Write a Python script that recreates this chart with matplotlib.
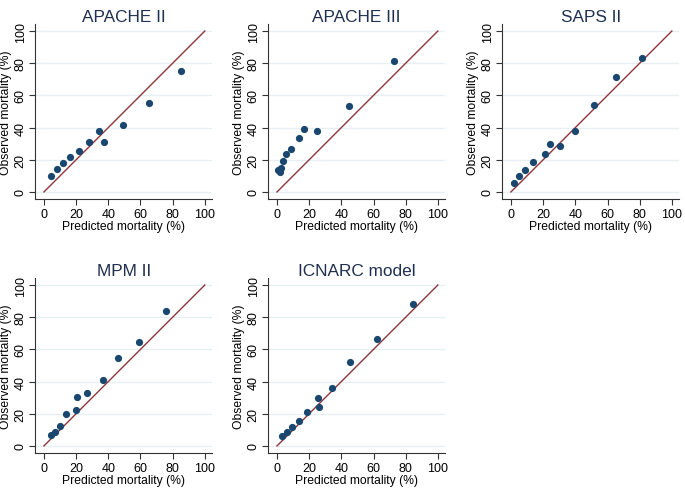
import matplotlib.pyplot as plt
import matplotlib

matplotlib.rcParams['font.family'] = ['Liberation Sans', 'DejaVu Sans']

# predicted vs observed mortality (%) per score
titles = ['APACHE II', 'APACHE III', 'SAPS II', 'MPM II', 'ICNARC model']

apache2_x = [4.6, 8.3, 11.8, 16.0, 21.6, 28.0, 34.5, 37.3, 49.4, 65.6, 85.2]
apache2_y = [9.8, 14.3, 18.1, 22.0, 25.6, 31.0, 37.8, 30.8, 41.4, 55.0, 75.4]

apache3_x = [0.5, 1.9, 2.7, 4.0, 5.8, 8.7, 13.7, 16.8, 25.0, 45.0, 72.8]
apache3_y = [13.5, 12.7, 15.0, 19.2, 23.3, 26.4, 33.7, 39.3, 38.0, 53.6, 81.6]

saps2_x = [2.1, 5.0, 8.7, 13.9, 21.4, 24.3, 30.6, 40.1, 51.4, 65.5, 81.5]
saps2_y = [5.6, 10.0, 13.5, 18.9, 23.7, 30.1, 28.3, 38.0, 54.3, 71.5, 83.2]

mpm2_x = [4.1, 6.6, 9.8, 13.7, 19.7, 20.5, 26.8, 36.5, 46.3, 59.3, 75.9]
mpm2_y = [6.8, 8.5, 12.4, 19.7, 22.4, 30.7, 32.8, 40.9, 54.8, 64.5, 83.8]

icnarc_x = [3.1, 6.2, 9.6, 13.7, 18.7, 25.6, 26.4, 34.3, 45.7, 62.2, 84.4]
icnarc_y = [6.0, 8.5, 11.8, 15.8, 21.2, 29.7, 24.5, 35.7, 51.9, 66.6, 88.4]

xs = [apache2_x, apache3_x, saps2_x, mpm2_x, icnarc_x]
ys = [apache2_y, apache3_y, saps2_y, mpm2_y, icnarc_y]

ticks = [0, 20, 40, 60, 80, 100]

navy = '#1a476f'
maroon = '#90353b'
gridc = '#e6eff1'
titlec = '#1e2f50'

fig = plt.figure(figsize=(6.85, 4.89), dpi=100)

lefts = [0.0512, 0.3914, 0.733, 0.0512, 0.3914]
bottoms = [0.5906, 0.5906, 0.5906, 0.0712, 0.0712]

for i in range(5):
    ax = fig.add_axes([lefts[i], bottoms[i], 0.2584, 0.3587])
    ax.set_xlim(-5.5, 104.5)
    ax.set_ylim(-4.5, 104.5)
    for t in ticks:
        ax.axhline(t, color=gridc, lw=0.9, zorder=0)
    ax.plot([0, 100], [0, 100], color=maroon, lw=1.0, zorder=2)
    ax.plot(xs[i], ys[i], 'o', color=navy, markersize=5.2, mec='none', zorder=3)
    ax.spines['top'].set_visible(False)
    ax.spines['right'].set_visible(False)
    ax.spines['left'].set_color('#333333')
    ax.spines['bottom'].set_color('#333333')
    ax.spines['left'].set_linewidth(0.8)
    ax.spines['bottom'].set_linewidth(0.8)
    ax.set_xticks(ticks)
    ax.set_yticks(ticks)
    ax.tick_params(direction='out', length=4, width=0.8, color='#333333',
                   labelsize=9, pad=2)
    for lab in ax.get_yticklabels():
        lab.set_rotation(90)
        lab.set_va('center')
    ax.set_xlabel('Predicted mortality (%)', fontsize=8.7, labelpad=0.5)
    ax.set_ylabel('Observed mortality (%)', fontsize=8.7, labelpad=2)
    ax.set_title(titles[i], fontsize=12.4, color=titlec, pad=2)

plt.savefig('out.png', dpi=100)
